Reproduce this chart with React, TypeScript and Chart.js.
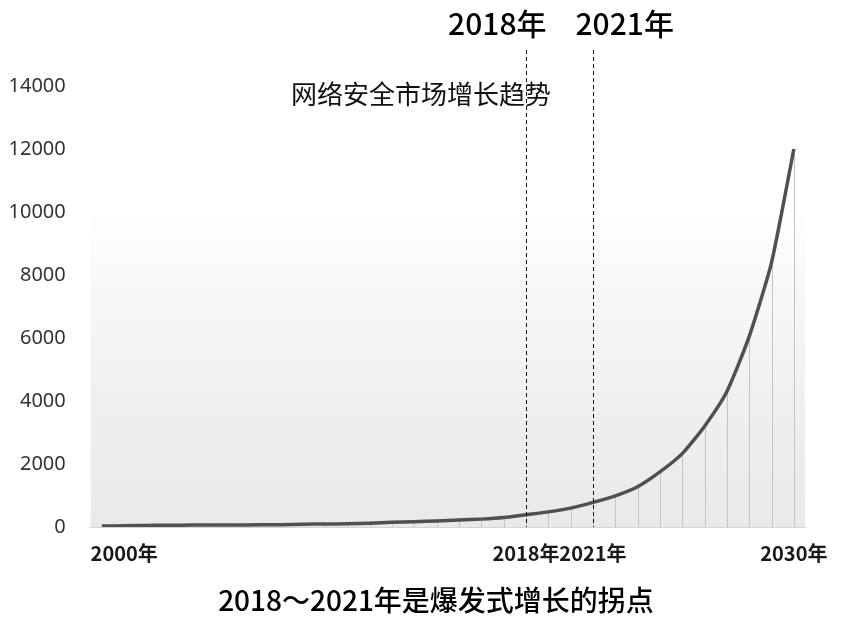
import React, { useEffect, useRef } from "react";
import { Chart, registerables } from "chart.js";

Chart.register(...registerables);

// ---- data ----
const years = [
  1999, 2000, 2001, 2002, 2003, 2004, 2005, 2006, 2007, 2008, 2009, 2010,
  2011, 2012, 2013, 2014, 2015, 2016, 2017, 2018, 2019, 2020, 2021, 2022,
  2023, 2024, 2025, 2026, 2027, 2028, 2029, 2030,
];
const marketValues = [
  30, 40, 50, 55, 60, 62, 65, 70, 75, 90, 95, 100,
  120, 150, 170, 190, 220, 250, 300, 390, 480, 600, 780, 990,
  1280, 1750, 2330, 3200, 4300, 6050, 8400, 12000,
];
const xTickYears = [2000, 2018, 2021, 2030];
const markerYears = [2018, 2021];
const yTickValues = [0, 2000, 4000, 6000, 8000, 10000, 12000, 14000];
const chartTitle = "网络安全市场增长趋势";
const caption = "2018～2021年是爆发式增长的拐点";
const yearSuffix = "年";

const CJK = '"Noto Sans CJK SC", "Noto Sans", sans-serif';

const backdropPlugin = {
  id: "backdrop",
  beforeDatasetsDraw(chart: any) {
    const { ctx, chartArea } = chart;
    const { left, right, top, bottom } = chartArea;
    ctx.save();
    const g = ctx.createLinearGradient(0, bottom, 0, top);
    g.addColorStop(0, "#e9e9e9");
    g.addColorStop(0.3, "#f0f0f0");
    g.addColorStop(0.55, "#f8f8f8");
    g.addColorStop(0.72, "#ffffff");
    g.addColorStop(1, "#ffffff");
    ctx.fillStyle = g;
    ctx.fillRect(left, top, right - left, bottom - top);
    // drop lines from each point
    const meta = chart.getDatasetMeta(0);
    ctx.strokeStyle = "#c4c4c4";
    ctx.lineWidth = 1;
    meta.data.forEach((pt: any) => {
      ctx.beginPath();
      ctx.moveTo(Math.round(pt.x) + 0.5, pt.y);
      ctx.lineTo(Math.round(pt.x) + 0.5, bottom);
      ctx.stroke();
    });
    ctx.restore();
  },
};

const markerPlugin = {
  id: "markers",
  afterDatasetsDraw(chart: any) {
    const { ctx, chartArea, scales } = chart;
    const xs = markerYears.map((y) => scales.x.getPixelForValue(y));
    ctx.save();
    ctx.strokeStyle = "#111";
    ctx.lineWidth = 1;
    ctx.setLineDash([4, 3]);
    xs.forEach((x) => {
      ctx.beginPath();
      ctx.moveTo(Math.round(x) + 0.5, 50);
      ctx.lineTo(Math.round(x) + 0.5, chartArea.bottom);
      ctx.stroke();
    });
    ctx.setLineDash([]);
    // year labels above the lines
    const mid = (xs[0] + xs[1]) / 2;
    ctx.fillStyle = "#000";
    ctx.font = `500 30px ${CJK}`;
    ctx.textBaseline = "middle";
    ctx.textAlign = "right";
    ctx.fillText(markerYears[0] + yearSuffix, mid - 13, 24);
    ctx.textAlign = "left";
    ctx.fillText(markerYears[1] + yearSuffix, mid + 16, 24);
    // chart title
    ctx.font = `400 26px ${CJK}`;
    ctx.fillStyle = "#111";
    ctx.textAlign = "center";
    ctx.fillText(chartTitle, 421, 94);
    // caption below the chart
    ctx.font = `500 28px ${CJK}`;
    ctx.fillStyle = "#000";
    ctx.fillText(caption, 436, 600);
    ctx.restore();
  },
};

export default function App() {
  const ref = useRef<HTMLCanvasElement | null>(null);

  useEffect(() => {
    document.body.style.margin = "0";
    if (!ref.current) return;
    const chart = new Chart(ref.current, {
      type: "line",
      data: {
        datasets: [
          {
            label: chartTitle,
            data: years.map((y, i) => ({ x: y, y: marketValues[i] })),
            borderColor: "#505050",
            borderWidth: 3.5,
            pointRadius: 0,
            tension: 0.2,
            fill: false,
          },
        ],
      },
      options: {
        responsive: false,
        animation: false,
        layout: { padding: { left: 8, right: 34, top: 86, bottom: 53 } },
        plugins: {
          legend: { display: false },
          tooltip: { enabled: false },
          title: { display: false },
        },
        scales: {
          x: {
            type: "linear",
            min: 1998.5,
            max: 2030.5,
            grid: { display: false, drawTicks: false },
            border: { display: true, color: "#d4d4d4", width: 1 },
            afterBuildTicks: (scale: any) => {
              scale.ticks = xTickYears.map((v) => ({ value: v }));
            },
            ticks: {
              autoSkip: false,
              maxRotation: 0,
              padding: 14,
              color: "#1a1a1a",
              font: { family: CJK, size: 20, weight: "bold" },
              callback: (v: any) => v + yearSuffix,
            },
          },
          y: {
            min: 0,
            max: 14000,
            grid: { display: false, drawTicks: false },
            border: { display: false },
            afterBuildTicks: (scale: any) => {
              scale.ticks = yTickValues.map((v) => ({ value: v }));
            },
            afterFit: (scale: any) => {
              scale.width = 82.7;
            },
            ticks: {
              padding: 25,
              color: "#333",
              font: { family: '"Noto Sans", sans-serif', size: 20 },
              callback: (v: any) => String(v),
            },
          },
        },
      },
      plugins: [backdropPlugin, markerPlugin],
    });
    return () => chart.destroy();
  }, []);

  return (
    <div style={{ width: 842, height: 632, background: "#fff" }}>
      <canvas ref={ref} width={842} height={632} />
    </div>
  );
}
